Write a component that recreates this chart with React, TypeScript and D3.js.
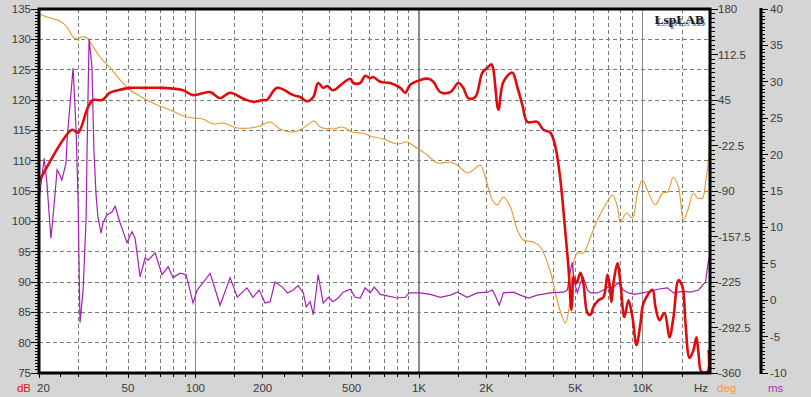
import React, { useEffect } from 'react';
import * as d3 from 'd3';

// ---------- data ----------
// SPL (red), frequency in Hz, level in dB
const splData: [number, number][] = [
  [20, 106.5], [28.1, 115.1], [29.9, 114.6], [33.1, 118.8], [34.9, 120.0], [38.3, 120.0], [41.6, 121.2],
  [45.1, 121.6], [51.1, 122.0], [59.6, 122.0], [71.7, 122.0], [88.2, 121.6], [97.7, 120.8], [116.5, 121.3],
  [129, 120.3], [143, 121.2], [164, 120.2], [181, 119.7], [201, 120.0], [209, 120.0], [232, 122.0],
  [274, 120.8], [294, 120.5], [316, 119.8], [337, 120.5], [354, 122.8], [373, 122.0], [389, 122.3],
  [413, 121.6], [458, 122.8], [493, 123.5], [508, 122.8], [546, 122.8], [575, 124.0], [605, 123.6],
  [624, 123.8], [671, 123.0], [744, 122.8], [825, 122.0], [868, 121.2], [914, 122.5], [1013, 123.3],
  [1101, 123.5], [1159, 123.0], [1245, 121.3], [1380, 121.3], [1499, 122.8], [1578, 122.0], [1662, 120.3],
  [1786, 120.5], [1919, 124.5], [2021, 125.3], [2106, 125.9], [2150, 125.0], [2264, 118.4], [2384, 123.0],
  [2614, 124.5], [2753, 122.1], [2898, 119.2], [3052, 116.4], [3383, 116.4], [3599, 115.1], [3867, 114.6],
  [4072, 112.3], [4288, 106.8], [4514, 98.1], [4656, 92.5], [4802, 85.4], [4851, 87.5], [4902, 90.8],
  [5055, 89.8], [5268, 91.5], [5433, 89.8], [5662, 84.9], [5840, 84.6], [6024, 85.9], [6342, 87.0],
  [6678, 87.5], [6960, 91.2], [7102, 89.8], [7250, 86.7], [7400, 89.8], [7712, 93.1], [7954, 89.8],
  [8288, 84.2], [8638, 87.0], [9002, 84.2], [9382, 79.6], [9777, 83.2], [10084, 86.5], [11059, 88.7],
  [11408, 85.9], [11886, 83.7], [12516, 84.9], [13178, 80.9], [13732, 84.2], [14458, 90.3], [15068, 89.2],
  [15540, 83.2], [16194, 77.5], [16874, 78.8], [17404, 80.9], [17764, 78.3], [18324, 75.2], [19490, 75.2],
  [19700, 78.8],
];

// Phase (orange), degrees
const phaseData: [number, number][] = [
  [20, 172.6], [22.4, 166.6], [24.8, 162.2], [26.7, 153.3], [28.4, 138.5], [29.6, 135.5], [31.1, 138.5],
  [32.8, 137.0], [34.5, 126.6], [37.5, 108.8], [41.6, 92.5], [46.1, 74.7], [51.1, 59.8], [58.4, 48.0],
  [67.5, 37.6], [77.1, 30.2], [88.2, 21.3], [97.7, 18.3], [108, 16.8], [120, 9.4], [133, 10.9], [154, 3.5],
  [176, 3.5], [195, 6.4], [216, 12.4], [239, 2.0], [274, -2.5], [304, 3.5], [340, 13.8], [362, 5.0],
  [413, 2.0], [454, 5.0], [503, -2.5], [557, -4.0], [605, -8.4], [692, -12.9], [800, -20.3], [886, -17.3],
  [962, -24.7], [1089, -36.6], [1207, -48.5], [1380, -47.0], [1483, -51.4], [1644, -63.3], [1750, -58.8],
  [1880, -51.4], [1979, -69.2], [2128, -103.3], [2240, -110.8], [2384, -98.9], [2562, -113.7],
  [2753, -147.9], [2928, -162.7], [3246, -165.7], [3488, -173.1], [3867, -210.2], [4199, -259.1],
  [4514, -285.8], [4752, -247.3], [4902, -196.8], [5106, -182.0], [5433, -182.0], [5840, -158.2],
  [6276, -133.0], [6816, -110.8], [7326, -95.9], [7712, -113.7], [7954, -136.0], [8458, -122.6],
  [9002, -130.1], [9478, -93.0], [9978, -73.7], [10616, -93.0], [11408, -110.8], [12268, -93.0],
  [12914, -91.5], [13732, -69.2], [14458, -84.1], [15224, -133.0], [16026, -115.2], [16874, -93.0],
  [17586, -100.4], [18510, -100.4], [19094, -78.1], [19692, -44.0], [20000, -2.0],
];

// Group delay (purple), ms
const delayData: [number, number][] = [
  [20, 13.8], [20.6, 16.9], [21.1, 19.5], [21.7, 16.1], [22.6, 8.5], [23.1, 11.4], [24.1, 17.9],
  [24.8, 17.2], [25.3, 16.5], [26.4, 18.8], [26.7, 22.0], [28.4, 31.9], [29.3, 23.4], [29.9, 13.8],
  [30.5, -3.1], [31.5, 1.4], [32.5, 11.4], [32.8, 20.6], [33.1, 27.5], [33.5, 35.9], [34.5, 32.0],
  [35.2, 20.6], [36.0, 14.4], [36.7, 11.4], [37.9, 9.2], [38.7, 10.7], [40.3, 11.7], [42.4, 12.1],
  [43.8, 12.9], [46.1, 10.6], [49.5, 7.9], [52.1, 9.4], [53.8, 8.5], [56.6, 3.2], [59.6, 5.8],
  [61.5, 5.5], [66.1, 6.5], [71.0, 3.5], [75.6, 4.6], [79.5, 3.1], [85.5, 3.7], [90.9, 3.5],
  [97.7, -0.4], [101.9, 1.4], [108.3, 2.4], [116.5, 3.7], [129, -0.7], [143, 3.1], [154, 0.4],
  [170, 1.7], [181, 0.4], [193, 1.4], [205, -0.4], [216, -0.2], [227, 2.5], [245, 1.8], [258, 1.0],
  [274, 1.4], [288, 2.0], [304, 1.0], [313, -0.9], [326, -0.2], [337, -2.0], [354, 3.5], [373, -0.4],
  [393, 0.4], [413, -0.2], [435, 0.3], [458, 1.1], [493, 1.5], [519, 0.4], [546, 0.3], [575, 1.7],
  [605, 1.0], [631, 1.8], [671, 0.8], [721, 0.6], [800, 0.3], [868, 0.4], [905, 1.0], [1013, 1.0],
  [1123, 0.8], [1245, 0.4], [1380, 0.7], [1483, 1.1], [1644, 0.4], [1823, 1.0], [2021, 1.1],
  [2128, 1.4], [2194, 0.6], [2286, -0.7], [2384, 1.0], [2642, 1.1], [2838, 0.7], [3082, 0.3],
  [3383, 0.7], [3867, 1.0], [4421, 1.1], [4605, 1.4], [4752, 4.1], [4851, 5.2], [4953, 2.4],
  [5106, 1.0], [5268, 2.4], [5433, 3.1], [5662, 1.4], [5840, 1.0], [6276, 1.0], [6678, 1.4],
  [6960, 1.8], [7326, 1.7], [7792, 2.4], [8204, 1.4], [8638, 1.0], [9188, 0.8], [9978, 1.0],
  [10836, 1.2], [11641, 1.5], [12914, 1.7], [13732, 1.0], [15068, 1.2], [16362, 1.1], [17764, 1.4],
  [19094, 2.5], [19692, 5.5], [20000, 6.2],
];

// axes
const freqLabels = ['20', '50', '100', '200', '500', '1K', '2K', '5K', '10K'];
const freqLabelValues = [20, 50, 100, 200, 500, 1000, 2000, 5000, 10000];
const gridFreqs = [30, 40, 50, 60, 70, 80, 90, 150, 200, 300, 400, 500, 600, 700, 800, 900,
  1500, 2000, 3000, 4000, 5000, 6000, 7000, 8000, 9000, 15000];
const decadeFreqs = [100, 1000, 10000];
const extraTickFreqs = [25, 250, 2500];
const dbTicks = [135, 130, 125, 120, 115, 110, 105, 100, 95, 90, 85, 80, 75];
const degTicks = [180, 112.5, 45, -22.5, -90, -157.5, -225, -292.5, -360];
const degTickLabels = ['180', '112.5', '45', '-22.5', '-90', '-157.5', '-225', '-292.5', '-360'];
const msTicks = [40, 35, 30, 25, 20, 15, 10, 5, 0, -5, -10];

const PL = 39, PR = 710, PT = 9, PB = 373;
const MS_X = 761;
const FONT = 'Arial, "Liberation Sans", sans-serif';
const TXT = '#3a3a3a';

export default function App() {
  useEffect(() => {
    document.body.style.margin = '0';
  }, []);

  const x = d3.scaleLog().domain([20, 20000]).range([PL, PR]);
  const yDb = d3.scaleLinear().domain([75, 135]).range([PB, PT]);
  const yDeg = d3.scaleLinear().domain([-360, 180]).range([PB, PT]);
  const yMs = d3.scaleLinear().domain([-10, 40]).range([PB, PT]);

  const splLine = d3.line<[number, number]>().x(d => x(d[0])).y(d => yDb(d[1])).curve(d3.curveCatmullRom.alpha(0.5));
  const phaseLine = d3.line<[number, number]>().x(d => x(d[0])).y(d => yDeg(d[1])).curve(d3.curveCatmullRom.alpha(0.5));
  const delayLine = d3.line<[number, number]>().x(d => x(d[0])).y(d => yMs(d[1])).curve(d3.curveLinear);

  const dbMinor = d3.range(75, 135.01, 0.5);
  const degMinor = d3.range(-360, 180.01, 6.75);
  const msMinor = d3.range(-10, 40.01, 0.5);
  const bottomTicks = [...gridFreqs, ...decadeFreqs, ...extraTickFreqs];

  return (
    <svg width={811} height={397} style={{ position: 'absolute', left: 0, top: 0, display: 'block' }}
      fontFamily={FONT}>
      <defs>
        <clipPath id="plotClip">
          <rect x={PL} y={PT} width={PR - PL} height={PB - PT} />
        </clipPath>
      </defs>
      <rect x={0} y={0} width={811} height={397} fill="#d5d5d5" />
      <rect x={PL} y={PT} width={PR - PL} height={PB - PT} fill="#ffffff" />

      {/* horizontal grid */}
      {dbTicks.filter(v => v !== 75 && v !== 135).map(v => (
        <line key={'hg' + v} x1={PL} x2={PR} y1={yDb(v)} y2={yDb(v)} stroke="#7a7a7a" strokeWidth={1}
          strokeDasharray="4,3" shapeRendering="crispEdges" />
      ))}
      {/* vertical grid */}
      {gridFreqs.map(f => (
        <line key={'vg' + f} x1={x(f)} x2={x(f)} y1={PT} y2={PB} stroke="#7a7a7a" strokeWidth={1}
          strokeDasharray="4,3" shapeRendering="crispEdges" />
      ))}
      {decadeFreqs.map(f => (
        <line key={'vd' + f} x1={x(f)} x2={x(f)} y1={PT} y2={PB} stroke="#8a8a8a" strokeWidth={1.2}
          shapeRendering="crispEdges" />
      ))}

      {/* curves */}
      <g clipPath="url(#plotClip)" fill="none">
        <path d={phaseLine(phaseData) || ''} stroke="#e8962e" strokeWidth={1.1} />
        <path d={delayLine(delayData) || ''} stroke="#a51fb5" strokeWidth={1.2} />
        <path d={splLine(splData) || ''} stroke="#e00b0b" strokeWidth={2.6} strokeLinejoin="round" />
      </g>

      {/* frame */}
      <rect x={PL} y={PT} width={PR - PL} height={PB - PT} fill="none" stroke="#000" strokeWidth={3} />

      {/* left dB axis */}
      {dbMinor.map(v => (
        <line key={'dbm' + v} x1={PL - 4} x2={PL} y1={yDb(v)} y2={yDb(v)} stroke="#000" strokeWidth={1} shapeRendering="crispEdges" />
      ))}
      {dbTicks.map(v => (
        <g key={'db' + v}>
          <line x1={PL - 8} x2={PL} y1={yDb(v)} y2={yDb(v)} stroke="#000" strokeWidth={1} shapeRendering="crispEdges" />
          <text x={31} y={yDb(v)} dy="0.35em" textAnchor="end" fontSize={11.5} fill={TXT}>{v}</text>
        </g>
      ))}

      {/* bottom frequency axis */}
      {bottomTicks.map(f => (
        <line key={'bt' + f} x1={x(f)} x2={x(f)} y1={PB} y2={PB + 4} stroke="#000" strokeWidth={1} shapeRendering="crispEdges" />
      ))}
      {freqLabelValues.map((f, i) => (
        <g key={'fl' + f}>
          <line x1={x(f)} x2={x(f)} y1={PB} y2={PB + 5} stroke="#000" strokeWidth={1} shapeRendering="crispEdges" />
          <text x={i === 0 ? x(f) - 2 : x(f)} y={392} textAnchor={i === 0 ? 'start' : 'middle'} fontSize={11.5} fill={TXT}>
            {freqLabels[i]}
          </text>
        </g>
      ))}
      <text x={31} y={392} textAnchor="end" fontSize={11.5} fill="#e01010">dB</text>
      <text x={708} y={392} textAnchor="end" fontSize={11.5} fill={TXT}>Hz</text>
      <text x={717} y={392} textAnchor="start" fontSize={11.5} fill="#ee9a3a">deg</text>
      <text x={768} y={392} textAnchor="start" fontSize={11.5} fill="#b030c0">ms</text>

      {/* right phase axis */}
      {degMinor.map(v => (
        <line key={'dgm' + v} x1={PR} x2={PR + 5} y1={yDeg(v)} y2={yDeg(v)} stroke="#000" strokeWidth={1} shapeRendering="crispEdges" />
      ))}
      {degTicks.map((v, i) => (
        <g key={'dg' + v}>
          <line x1={PR} x2={PR + 8} y1={yDeg(v)} y2={yDeg(v)} stroke="#000" strokeWidth={1} shapeRendering="crispEdges" />
          <text x={718} y={yDeg(v)} dy="0.35em" textAnchor="start" fontSize={11.5} fill={TXT}>{degTickLabels[i]}</text>
        </g>
      ))}

      {/* ms axis */}
      <line x1={MS_X} x2={MS_X} y1={PT - 1} y2={PB + 1} stroke="#000" strokeWidth={3} />
      {msMinor.map(v => (
        <line key={'msm' + v} x1={MS_X} x2={MS_X + 4} y1={yMs(v)} y2={yMs(v)} stroke="#000" strokeWidth={1} shapeRendering="crispEdges" />
      ))}
      {msTicks.map(v => (
        <g key={'ms' + v}>
          <line x1={MS_X} x2={MS_X + 7} y1={yMs(v)} y2={yMs(v)} stroke="#000" strokeWidth={1} shapeRendering="crispEdges" />
          <text x={770} y={yMs(v)} dy="0.35em" textAnchor="start" fontSize={11.5} fill={TXT}>{v}</text>
        </g>
      ))}

      {/* brand */}
      <text x={705.5} y={25.5} textAnchor="end" fontSize={13.5} fontWeight="bold"
        fontFamily='"Liberation Serif", "Times New Roman", serif' fill="#8090b0">LspLAB</text>
      <text x={704} y={24} textAnchor="end" fontSize={13.5} fontWeight="bold"
        fontFamily='"Liberation Serif", "Times New Roman", serif' fill="#1a1a1a">LspLAB</text>
    </svg>
  );
}
